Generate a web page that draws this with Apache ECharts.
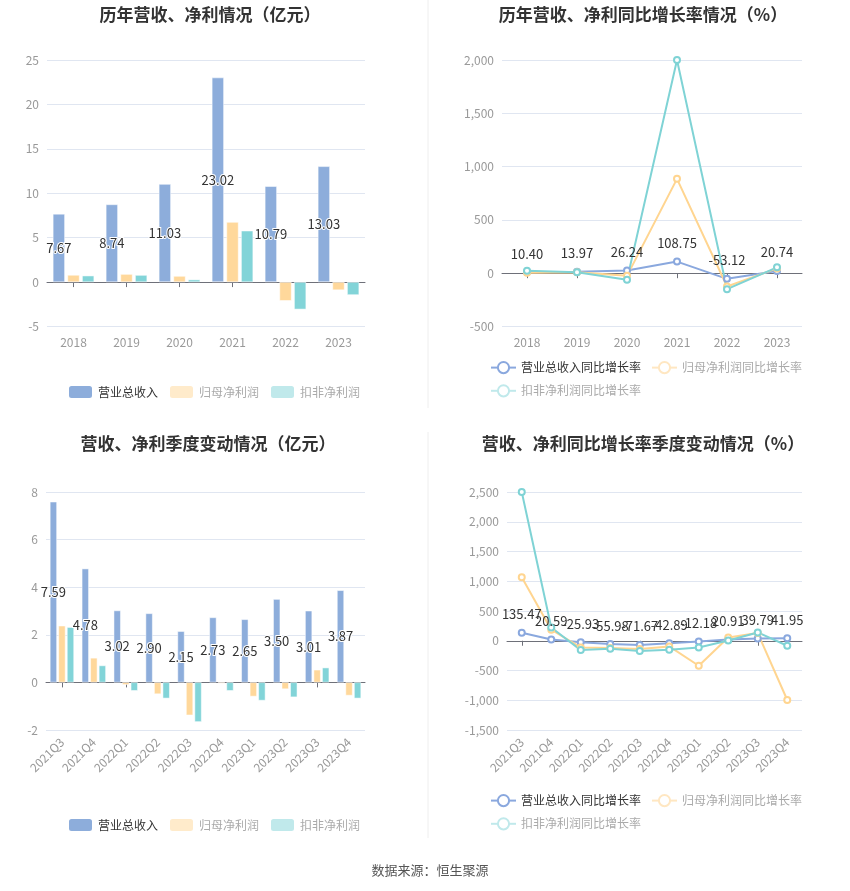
<!DOCTYPE html>
<html><head><meta charset="utf-8">
<script src="https://cdn.jsdelivr.net/npm/echarts@6/dist/echarts.min.js"></script>
<style>html,body{margin:0;padding:0;background:#fff}#c{width:850px;height:891px}</style>
</head><body><div id="c"></div>
<script>
var years = ['2018','2019','2020','2021','2022','2023'];
var revenue = [7.67, 8.74, 11.03, 23.02, 10.79, 13.03];
var netProfit = [0.80, 0.90, 0.68, 6.76, -2.10, -0.90];
var deductProfit = [0.72, 0.79, 0.28, 5.78, -3.07, -1.45];
var revenueYoY = [10.40, 13.97, 26.24, 108.75, -53.12, 20.74];
var netProfitYoY = [5, 10, -25, 885, -125, 45];
var deductProfitYoY = [22, 9, -62, 2000, -150, 55];
var quarters = ['2021Q3','2021Q4','2022Q1','2022Q2','2022Q3','2022Q4','2023Q1','2023Q2','2023Q3','2023Q4'];
var qRevenue = [7.59, 4.78, 3.02, 2.90, 2.15, 2.73, 2.65, 3.50, 3.01, 3.87];
var qNetProfit = [2.38, 1.03, -0.10, -0.49, -1.38, -0.04, -0.59, -0.28, 0.53, -0.55];
var qDeductProfit = [2.32, 0.71, -0.35, -0.67, -1.66, -0.35, -0.76, -0.62, 0.62, -0.67];
var qRevenueYoY = [135.47, 20.59, -25.93, -55.98, -71.67, -42.89, -12.18, 20.91, 39.79, 41.95];
var qNetProfitYoY = [1068, 185, -112, -123, -140, -95, -420, 56, 129, -996];
var qDeductProfitYoY = [2500, 224, -157, -134, -173, -151, -112, 5, 140, -84];

var F = 'Noto Sans CJK SC';
var C_BLUE = '#8DADDB', C_ORANGE = '#FFD89B', C_CYAN = '#82D4D8';
var L_BLUE = '#8AA8DE', L_ORANGE = '#FFD590', L_CYAN = '#7FD3D5';

function fmt(v){ return v.toLocaleString('en-US'); }
function grid(l,t,w,h){ return {left:l, top:t, width:w, height:h, containLabel:false}; }
function xAxes(g, cats, rotate){
  return [
    {type:'category', gridIndex:g, data:cats, position:'bottom',
     axisLine:{onZero:true, lineStyle:{color:'#6E7079'}},
     axisTick:{show:true, alignWithLabel:true, length:5, lineStyle:{color:'#6E7079'}},
     axisLabel:{show:false}, splitLine:{show:false}},
    {type:'category', gridIndex:g, data:cats, position:'bottom',
     axisLine:{show:false, onZero:false}, axisTick:{show:false},
     axisLabel:{show:true, color:'#999', fontSize:12, fontFamily:F, rotate:rotate, margin:10, interval:0}}
  ];
}
function yAxis(g,min,max,iv){
  return {type:'value', gridIndex:g, min:min, max:max, interval:iv,
    axisLine:{show:false}, axisTick:{show:false},
    axisLabel:{color:'#999', fontSize:12, fontFamily:F, formatter:fmt},
    splitLine:{lineStyle:{color:'#E0E6F1'}}};
}
function barS(name, data, xi, yi, color, bw, label){
  return {type:'bar', name:name, data:data, xAxisIndex:xi, yAxisIndex:yi, barWidth:bw, barGap:'22%',
    itemStyle:{color:color, borderColor:'#fff', borderWidth:0.5},
    label:label ? {show:true, position:'inside', color:'#333', fontSize:13, fontFamily:F,
      textBorderColor:'#fff', textBorderWidth:2, formatter:function(p){return p.value.toFixed(2);}} : {show:false}};
}
function lineS(name, data, xi, yi, color, label){
  return {type:'line', name:name, data:data, xAxisIndex:xi, yAxisIndex:yi,
    symbol:'emptyCircle', symbolSize:6, lineStyle:{color:color, width:2}, itemStyle:{color:color},
    label:label ? {show:true, position:'top', distance:8, color:'#333', fontSize:13, fontFamily:F,
      formatter:function(p){return p.value.toFixed(2);}} : {show:false}};
}
function title(text, x, y){
  return {text:text, left:x, top:y, textAlign:'center',
    textStyle:{fontFamily:F, fontSize:17, fontWeight:'bold', color:'#333'}};
}
var barLegendData = [
  {name:'营业总收入', itemStyle:{color:C_BLUE}, textStyle:{color:'#333'}},
  {name:'归母净利润', itemStyle:{color:'#FFEBCB'}, textStyle:{color:'#aaa'}},
  {name:'扣非净利润', itemStyle:{color:'#C0E9EB'}, textStyle:{color:'#aaa'}}
];
function lineLeg(name, c, tc){
  return {name:name, itemStyle:{color:c},
    lineStyle:{color:c, width:2, type:'solid'}, textStyle:{color:tc}};
}
var lineLegendData = [
  lineLeg('营业总收入同比增长率', L_BLUE, '#333'),
  lineLeg('归母净利润同比增长率', '#FFE7C2', '#aaa'),
  lineLeg('扣非净利润同比增长率', '#C0E9EB', '#aaa')
];
function legend(data, left, top, width){
  var o = {data:data, top:top, left:left, itemWidth:25, itemHeight:14, itemGap:10,
    textStyle:{fontFamily:F, fontSize:12}};
  if (width) o.width = width;
  return o;
}

var chart = echarts.init(document.getElementById('c'));
var xs = [].concat(xAxes(0, years, 0), xAxes(1, years, 0), xAxes(2, quarters, 45), xAxes(3, quarters, 45));
chart.setOption({
  animation:false,
  backgroundColor:'#fff',
  title:[
    title('历年营收、净利情况（亿元）', 205, 1),
    title('历年营收、净利同比增长率情况（%）', 638, 1),
    title('营收、净利季度变动情况（亿元）', 203, 430),
    title('营收、净利同比增长率季度变动情况（%）', 638, 430),
    {text:'数据来源：恒生聚源', left:425, top:859, textAlign:'center',
     textStyle:{fontFamily:F, fontSize:13, fontWeight:'normal', color:'#555'}}
  ],
  legend:[
    legend(barLegendData, 62, 379),
    legend(lineLegendData, 485, 356, 330),
    legend(barLegendData, 62, 812),
    legend(lineLegendData, 485, 789, 330)
  ],
  grid:[grid(47,60,318,266.5), grid(502,60,300,266.5), grid(46,492,319,238), grid(507,492,295,238)],
  xAxis:xs,
  yAxis:[yAxis(0,-5,25,5), yAxis(1,-500,2000,500), yAxis(2,-2,8,2), yAxis(3,-1500,2500,500)],
  graphic:[
    {type:'line', shape:{x1:428,y1:0,x2:428,y2:408}, style:{stroke:'#eee', lineWidth:1}},
    {type:'line', shape:{x1:428,y1:432,x2:428,y2:838}, style:{stroke:'#eee', lineWidth:1}}
  ],
  series:[
    barS('营业总收入', revenue, 0, 0, C_BLUE, 12, true),
    barS('归母净利润', netProfit, 0, 0, C_ORANGE, 12, false),
    barS('扣非净利润', deductProfit, 0, 0, C_CYAN, 12, false),
    lineS('营业总收入同比增长率', revenueYoY, 2, 1, L_BLUE, true),
    lineS('归母净利润同比增长率', netProfitYoY, 2, 1, L_ORANGE, false),
    lineS('扣非净利润同比增长率', deductProfitYoY, 2, 1, L_CYAN, false),
    barS('营业总收入', qRevenue, 4, 2, C_BLUE, 7, true),
    barS('归母净利润', qNetProfit, 4, 2, C_ORANGE, 7, false),
    barS('扣非净利润', qDeductProfit, 4, 2, C_CYAN, 7, false),
    lineS('营业总收入同比增长率', qRevenueYoY, 6, 3, L_BLUE, true),
    lineS('归母净利润同比增长率', qNetProfitYoY, 6, 3, L_ORANGE, false),
    lineS('扣非净利润同比增长率', qDeductProfitYoY, 6, 3, L_CYAN, false)
  ]
});
</script></body></html>
